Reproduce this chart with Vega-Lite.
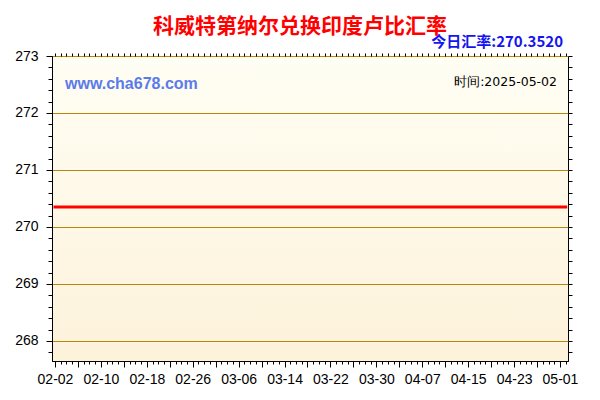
{
  "$schema": "https://vega.github.io/schema/vega-lite/v6.json",
  "width": 516,
  "height": 305,
  "autosize": {"type": "none"},
  "padding": {"left": 52, "top": 56, "right": 32, "bottom": 39},
  "background": "#FFFFFF",
  "title": {
    "text": "科威特第纳尔兑换印度卢比汇率",
    "font": "Noto Sans CJK SC",
    "fontSize": 21,
    "fontWeight": "bold",
    "color": "#FF0000",
    "anchor": "middle",
    "dx": -10,
    "offset": 14,
    "dy": 16
  },
  "config": {
    "view": {
      "stroke": "#000000",
      "strokeWidth": 1,
      "fill": {"gradient": "linear", "x1": 0, "y1": 0, "x2": 0, "y2": 1,
        "stops": [{"offset": 0, "color": "#FFFEF4"}, {"offset": 1, "color": "#FDF2DA"}]}
    },
    "axis": {"labelFont": "Liberation Sans", "labelFontSize": 14, "labelColor": "#000000", "tickColor": "#000000", "domainColor": "#000000", "title": null, "zindex": 1}
  },
  "datasets": {
    "rates": [
      {"date": "2025-02-02", "rate": 270.352}, {"date": "2025-02-03", "rate": 270.352}, {"date": "2025-02-04", "rate": 270.352}, {"date": "2025-02-05", "rate": 270.352},
      {"date": "2025-02-06", "rate": 270.352}, {"date": "2025-02-07", "rate": 270.352}, {"date": "2025-02-08", "rate": 270.352}, {"date": "2025-02-09", "rate": 270.352},
      {"date": "2025-02-10", "rate": 270.352}, {"date": "2025-02-11", "rate": 270.352}, {"date": "2025-02-12", "rate": 270.352}, {"date": "2025-02-13", "rate": 270.352},
      {"date": "2025-02-14", "rate": 270.352}, {"date": "2025-02-15", "rate": 270.352}, {"date": "2025-02-16", "rate": 270.352}, {"date": "2025-02-17", "rate": 270.352},
      {"date": "2025-02-18", "rate": 270.352}, {"date": "2025-02-19", "rate": 270.352}, {"date": "2025-02-20", "rate": 270.352}, {"date": "2025-02-21", "rate": 270.352},
      {"date": "2025-02-22", "rate": 270.352}, {"date": "2025-02-23", "rate": 270.352}, {"date": "2025-02-24", "rate": 270.352}, {"date": "2025-02-25", "rate": 270.352},
      {"date": "2025-02-26", "rate": 270.352}, {"date": "2025-02-27", "rate": 270.352}, {"date": "2025-02-28", "rate": 270.352},
      {"date": "2025-03-01", "rate": 270.352}, {"date": "2025-03-02", "rate": 270.352}, {"date": "2025-03-03", "rate": 270.352}, {"date": "2025-03-04", "rate": 270.352},
      {"date": "2025-03-05", "rate": 270.352}, {"date": "2025-03-06", "rate": 270.352}, {"date": "2025-03-07", "rate": 270.352}, {"date": "2025-03-08", "rate": 270.352},
      {"date": "2025-03-09", "rate": 270.352}, {"date": "2025-03-10", "rate": 270.352}, {"date": "2025-03-11", "rate": 270.352}, {"date": "2025-03-12", "rate": 270.352},
      {"date": "2025-03-13", "rate": 270.352}, {"date": "2025-03-14", "rate": 270.352}, {"date": "2025-03-15", "rate": 270.352}, {"date": "2025-03-16", "rate": 270.352},
      {"date": "2025-03-17", "rate": 270.352}, {"date": "2025-03-18", "rate": 270.352}, {"date": "2025-03-19", "rate": 270.352}, {"date": "2025-03-20", "rate": 270.352},
      {"date": "2025-03-21", "rate": 270.352}, {"date": "2025-03-22", "rate": 270.352}, {"date": "2025-03-23", "rate": 270.352}, {"date": "2025-03-24", "rate": 270.352},
      {"date": "2025-03-25", "rate": 270.352}, {"date": "2025-03-26", "rate": 270.352}, {"date": "2025-03-27", "rate": 270.352}, {"date": "2025-03-28", "rate": 270.352},
      {"date": "2025-03-29", "rate": 270.352}, {"date": "2025-03-30", "rate": 270.352}, {"date": "2025-03-31", "rate": 270.352},
      {"date": "2025-04-01", "rate": 270.352}, {"date": "2025-04-02", "rate": 270.352}, {"date": "2025-04-03", "rate": 270.352}, {"date": "2025-04-04", "rate": 270.352},
      {"date": "2025-04-05", "rate": 270.352}, {"date": "2025-04-06", "rate": 270.352}, {"date": "2025-04-07", "rate": 270.352}, {"date": "2025-04-08", "rate": 270.352},
      {"date": "2025-04-09", "rate": 270.352}, {"date": "2025-04-10", "rate": 270.352}, {"date": "2025-04-11", "rate": 270.352}, {"date": "2025-04-12", "rate": 270.352},
      {"date": "2025-04-13", "rate": 270.352}, {"date": "2025-04-14", "rate": 270.352}, {"date": "2025-04-15", "rate": 270.352}, {"date": "2025-04-16", "rate": 270.352},
      {"date": "2025-04-17", "rate": 270.352}, {"date": "2025-04-18", "rate": 270.352}, {"date": "2025-04-19", "rate": 270.352}, {"date": "2025-04-20", "rate": 270.352},
      {"date": "2025-04-21", "rate": 270.352}, {"date": "2025-04-22", "rate": 270.352}, {"date": "2025-04-23", "rate": 270.352}, {"date": "2025-04-24", "rate": 270.352},
      {"date": "2025-04-25", "rate": 270.352}, {"date": "2025-04-26", "rate": 270.352}, {"date": "2025-04-27", "rate": 270.352}, {"date": "2025-04-28", "rate": 270.352},
      {"date": "2025-04-29", "rate": 270.352}, {"date": "2025-04-30", "rate": 270.352},
      {"date": "2025-05-01", "rate": 270.352}, {"date": "2025-05-02", "rate": 270.352}
    ],
    "single": [{"note": "label"}]
  },
  "resolve": {"axis": {"x": "independent", "y": "independent"}},
  "layer": [
    {
      "data": {"name": "rates"},
      "mark": {"type": "line", "color": "#FF0000", "strokeWidth": 3, "strokeCap": "square"},
      "encoding": {
        "x": {
          "field": "date", "type": "temporal",
          "scale": {"type": "utc", "domain": [{"year": 2025, "month": 2, "date": 1, "hours": 11, "minutes": 30, "utc": true}, {"year": 2025, "month": 5, "date": 2, "hours": 9, "minutes": 30, "utc": true}]},
          "axis": {
            "orient": "bottom",
            "values": [
              {"year": 2025, "month": 2, "date": 2, "utc": true}, {"year": 2025, "month": 2, "date": 6, "utc": true},
              {"year": 2025, "month": 2, "date": 10, "utc": true}, {"year": 2025, "month": 2, "date": 14, "utc": true},
              {"year": 2025, "month": 2, "date": 18, "utc": true}, {"year": 2025, "month": 2, "date": 22, "utc": true},
              {"year": 2025, "month": 2, "date": 26, "utc": true}, {"year": 2025, "month": 3, "date": 2, "utc": true},
              {"year": 2025, "month": 3, "date": 6, "utc": true}, {"year": 2025, "month": 3, "date": 10, "utc": true},
              {"year": 2025, "month": 3, "date": 14, "utc": true}, {"year": 2025, "month": 3, "date": 18, "utc": true},
              {"year": 2025, "month": 3, "date": 22, "utc": true}, {"year": 2025, "month": 3, "date": 26, "utc": true},
              {"year": 2025, "month": 3, "date": 30, "utc": true}, {"year": 2025, "month": 4, "date": 3, "utc": true},
              {"year": 2025, "month": 4, "date": 7, "utc": true}, {"year": 2025, "month": 4, "date": 11, "utc": true},
              {"year": 2025, "month": 4, "date": 15, "utc": true}, {"year": 2025, "month": 4, "date": 19, "utc": true},
              {"year": 2025, "month": 4, "date": 23, "utc": true}, {"year": 2025, "month": 4, "date": 27, "utc": true},
              {"year": 2025, "month": 5, "date": 1, "utc": true}
            ],
            "labelExpr": "(round((datum.value - 1738454400000) / 86400000) % 8 == 0) ? utcFormat(datum.value, '%m-%d') : ''",
            "labelOverlap": false,
            "labelFlush": false,
            "tickSize": 6,
            "labelPadding": 5,
            "grid": false,
            "domain": true
          }
        },
        "y": {
          "field": "rate", "type": "quantitative",
          "scale": {"domain": [267.649, 273], "nice": false, "zero": false},
          "axis": {
            "orient": "left",
            "values": [268, 269, 270, 271, 272, 273],
            "format": "d",
            "tickSize": 6,
            "labelPadding": 8,
            "grid": true,
            "gridColor": "#B8860B",
            "gridWidth": 1,
            "gridOpacity": 1,
            "domain": true
          }
        }
      }
    },
    {
      "data": {"name": "single"},
      "mark": {"type": "text", "text": "今日汇率:270.3520", "font": "Noto Sans CJK SC", "fontSize": 15, "fontWeight": "bold", "color": "#1414F0", "align": "right", "baseline": "middle", "dx": -5, "dy": -14.5},
      "encoding": {
        "x": {
          "datum": {"year": 2025, "month": 5, "date": 2, "hours": 9, "minutes": 30, "utc": true}, "type": "temporal",
          "scale": {"type": "utc", "domain": [{"year": 2025, "month": 2, "date": 1, "hours": 11, "minutes": 30, "utc": true}, {"year": 2025, "month": 5, "date": 2, "hours": 9, "minutes": 30, "utc": true}]},
          "axis": {"orient": "bottom", "tickCount": {"interval": "day", "step": 1}, "labels": false, "tickSize": 3, "domain": false, "grid": false}
        },
        "y": {
          "datum": 273, "type": "quantitative",
          "scale": {"domain": [267.649, 273], "nice": false, "zero": false},
          "axis": {"orient": "right", "values": [267.8, 268, 268.2, 268.4, 268.6, 268.8, 269, 269.2, 269.4, 269.6, 269.8, 270, 270.2, 270.4, 270.6, 270.8, 271, 271.2, 271.4, 271.6, 271.8, 272, 272.2, 272.4, 272.6, 272.8, 273], "labels": false, "tickSize": 4, "domain": false, "grid": false}
        }
      }
    },
    {
      "data": {"name": "single"},
      "mark": {"type": "text", "text": "www.cha678.com", "font": "Liberation Sans", "fontSize": 16, "fontWeight": "bold", "color": "#5B7BEA", "align": "left", "baseline": "middle", "dx": 13, "dy": 28},
      "encoding": {
        "x": {
          "datum": {"year": 2025, "month": 2, "date": 1, "hours": 11, "minutes": 30, "utc": true}, "type": "temporal",
          "scale": {"type": "utc", "domain": [{"year": 2025, "month": 2, "date": 1, "hours": 11, "minutes": 30, "utc": true}, {"year": 2025, "month": 5, "date": 2, "hours": 9, "minutes": 30, "utc": true}]},
          "axis": {"orient": "top", "tickCount": {"interval": "day", "step": 1}, "labels": false, "tickSize": 3, "domain": false, "grid": false}
        },
        "y": {
          "datum": 273, "type": "quantitative",
          "scale": {"domain": [267.649, 273], "nice": false, "zero": false},
          "axis": {"orient": "left", "values": [267.8, 268.2, 268.4, 268.6, 268.8, 269.2, 269.4, 269.6, 269.8, 270.2, 270.4, 270.6, 270.8, 271.2, 271.4, 271.6, 271.8, 272.2, 272.4, 272.6, 272.8], "labels": false, "tickSize": 4, "domain": false, "grid": false}
        }
      }
    },
    {
      "data": {"name": "single"},
      "mark": {"type": "text", "text": "时间:2025-05-02", "font": "DejaVu Sans", "fontSize": 12.5, "color": "#000000", "align": "right", "baseline": "middle", "dx": -11, "dy": 26},
      "encoding": {
        "x": {
          "datum": {"year": 2025, "month": 5, "date": 2, "hours": 9, "minutes": 30, "utc": true}, "type": "temporal",
          "scale": {"type": "utc", "domain": [{"year": 2025, "month": 2, "date": 1, "hours": 11, "minutes": 30, "utc": true}, {"year": 2025, "month": 5, "date": 2, "hours": 9, "minutes": 30, "utc": true}]},
          "axis": null
        },
        "y": {"datum": 273, "type": "quantitative", "scale": {"domain": [267.649, 273], "nice": false, "zero": false}, "axis": null}
      }
    }
  ]
}
